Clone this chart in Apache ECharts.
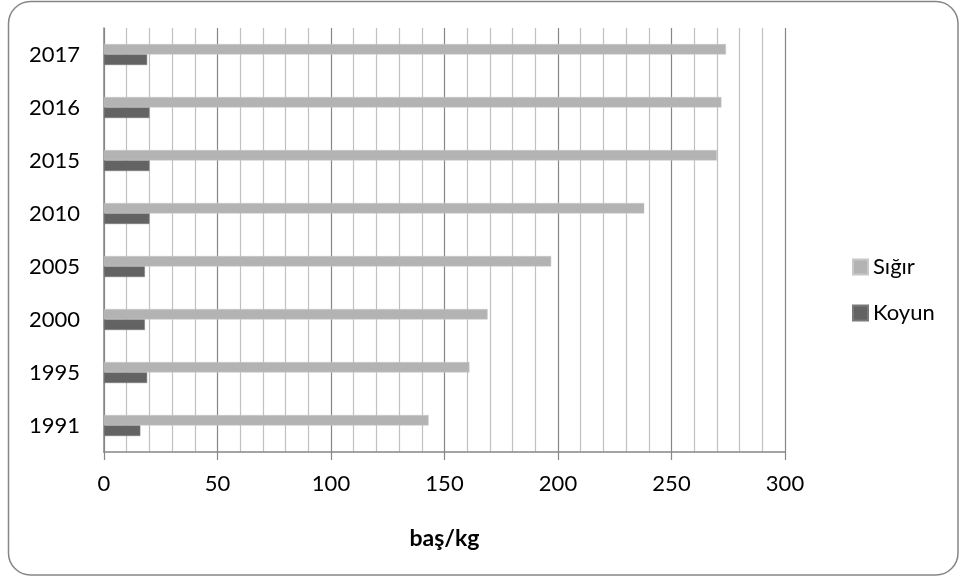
<!DOCTYPE html>
<html>
<head>
<meta charset="utf-8">
<script src="https://cdn.jsdelivr.net/npm/echarts@6/dist/echarts.min.js"></script>
<style>
html,body{margin:0;padding:0;background:#fff;}
#chart{width:961px;height:579px;}
</style>
</head>
<body>
<div id="chart"></div>
<script>
const years = ['1991','1995','2000','2005','2010','2015','2016','2017'];
const sigir = [143, 161, 169, 197, 238, 270, 272, 274];
const koyun = [16, 19, 18, 18, 20, 20, 20, 19];
const seriesNames = ['Sığır', 'Koyun'];
const axisName = 'baş/kg';

const font = 'Lato, "Open Sans", sans-serif';
const chart = echarts.init(document.getElementById('chart'));
chart.setOption({
  animation: false,
  backgroundColor: '#fff',
  graphic: [{
    type: 'rect',
    shape: {x: 8.5, y: 1.5, width: 949.5, height: 573.5, r: 22},
    style: {fill: 'none', stroke: '#868686', lineWidth: 1.5},
    silent: true
  }],
  grid: {left: 104, right: 176, top: 28, bottom: 127},
  legend: {
    data: seriesNames,
    orient: 'vertical',
    left: 847,
    top: 251,
    itemGap: 24,
    itemWidth: 15,
    itemHeight: 15,
    icon: 'rect',
    textStyle: {fontFamily: font, fontSize: 22, color: '#000'}
  },
  xAxis: {
    type: 'value',
    min: 0, max: 300, interval: 50,
    name: axisName,
    nameLocation: 'middle',
    nameGap: 75,
    nameTextStyle: {fontFamily: font, fontSize: 23, fontWeight: 'bold', color: '#000'},
    axisLine: {show: true, lineStyle: {color: '#868686', width: 1.5}},
    axisTick: {show: true, length: 8, lineStyle: {color: '#868686', width: 1.2}},
    axisLabel: {fontFamily: font, fontSize: 22, color: '#000', margin: 21},
    splitLine: {show: true, lineStyle: {color: '#868686', width: 1.2}},
    minorTick: {show: false, splitNumber: 5},
    minorSplitLine: {show: true, lineStyle: {color: '#c0c0c0', width: 1.2}}
  },
  yAxis: {
    type: 'category',
    data: years,
    axisLine: {show: true, lineStyle: {color: '#868686', width: 1.5}},
    axisTick: {show: false},
    axisLabel: {fontFamily: font, fontSize: 22, color: '#000', margin: 24},
    splitLine: {show: false}
  },
  series: [
    {
      name: seriesNames[0], type: 'bar', data: sigir,
      barWidth: 10.5, barGap: '0%',
      itemStyle: {color: '#b3b3b3', borderColor: '#c8c8c8', borderWidth: 0.5}
    },
    {
      name: seriesNames[1], type: 'bar', data: koyun,
      barWidth: 10.5, barGap: '0%',
      itemStyle: {color: '#636363', borderColor: '#7a7a7a', borderWidth: 0.5}
    }
  ]
});
</script>
</body>
</html>
